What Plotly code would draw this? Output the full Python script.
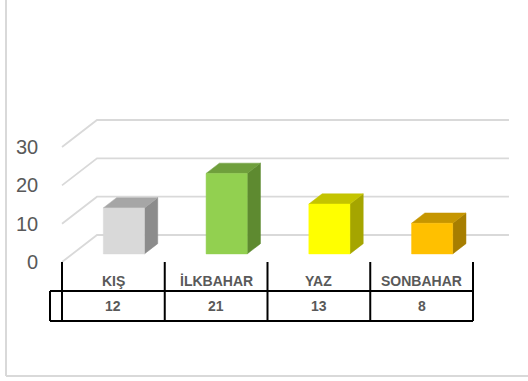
import plotly.graph_objects as go

# Seasonal counts
seasons = ["KIŞ", "İLKBAHAR", "YAZ", "SONBAHAR"]
counts = [12, 21, 13, 8]
y_ticks = [0, 10, 20, 30]

front_colors = ["#d9d9d9", "#92d050", "#ffff00", "#ffc000"]
top_colors = ["#a6a6a6", "#6f9f3c", "#c4c400", "#c69600"]
side_colors = ["#8c8c8c", "#5e8a30", "#a5a500", "#a77e00"]

W, H = 528, 381
# pixel scale of the plotting frame
PX_X = 102.75          # px per category slot
PX_Y = 3.833           # px per value unit
X0_PX, Y0_PX = 62, 262  # front-left corner of the floor in px

# oblique depth offset of the back wall (data units)
DX = 35 / PX_X
DY = 27 / PX_Y
BACK_RIGHT = 4.35

x_range = [-X0_PX / PX_X, (W - X0_PX) / PX_X]
y_range = [(Y0_PX - H) / PX_Y, Y0_PX / PX_Y]


def py(p):
    """pixel row -> paper y"""
    return 1 - p / H


def px_to_x(p):
    return (p - X0_PX) / PX_X


fig = go.Figure()

# perspective gridlines: left slant + back wall line
for v in y_ticks:
    fig.add_trace(go.Scatter(
        x=[0, DX, BACK_RIGHT], y=[v, v + DY, v + DY],
        mode="lines", line=dict(color="#d9d9d9", width=1.8),
        hoverinfo="skip", showlegend=False))

# 3D columns
BAR_W = 0.4
F0, F1 = 0.3, 0.68
for i, (name, val) in enumerate(zip(seasons, counts)):
    xl = i + 0.5 - BAR_W / 2
    xr = i + 0.5 + BAR_W / 2
    fx0, fy0 = F0 * DX, F0 * DY
    fx1, fy1 = F1 * DX, F1 * DY
    front = ([xl + fx0, xr + fx0, xr + fx0, xl + fx0, xl + fx0],
             [fy0, fy0, val + fy0, val + fy0, fy0])
    top = ([xl + fx0, xr + fx0, xr + fx1, xl + fx1, xl + fx0],
           [val + fy0, val + fy0, val + fy1, val + fy1, val + fy0])
    side = ([xr + fx0, xr + fx1, xr + fx1, xr + fx0, xr + fx0],
            [fy0, fy1, val + fy1, val + fy0, fy0])
    for (xs, ys), col in ((side, side_colors[i]), (top, top_colors[i]),
                          (front, front_colors[i])):
        fig.add_trace(go.Scatter(
            x=xs, y=ys, mode="lines", fill="toself", fillcolor=col,
            line=dict(color=col, width=0.5), hoverinfo="skip",
            showlegend=False))

# value axis labels
for v in y_ticks:
    fig.add_annotation(x=px_to_x(40), y=v, xref="x", yref="y", text=str(v),
                       showarrow=False, xanchor="right", yanchor="middle",
                       font=dict(family="Liberation Sans", size=20,
                                 color="#595959"))

# data table below the plot
line_k = dict(color="black", width=2)
for i in range(len(seasons) + 1):
    fig.add_shape(type="line", xref="x", yref="paper", x0=i, x1=i,
                  y0=py(262), y1=py(321), line=line_k)
fig.add_shape(type="line", xref="x", yref="paper", x0=px_to_x(50),
              x1=len(seasons), y0=py(291), y1=py(291), line=line_k)
fig.add_shape(type="line", xref="x", yref="paper", x0=px_to_x(50),
              x1=len(seasons), y0=py(321), y1=py(321), line=line_k)
fig.add_shape(type="line", xref="x", yref="paper", x0=px_to_x(50),
              x1=px_to_x(50), y0=py(291), y1=py(321), line=line_k)

for i, (name, val) in enumerate(zip(seasons, counts)):
    fig.add_annotation(x=i + 0.5, y=py(281), xref="x", yref="paper",
                       text=f"<b>{name}</b>", showarrow=False,
                       yanchor="middle",
                       font=dict(family="Liberation Sans", size=14,
                                 color="#595959"))
    fig.add_annotation(x=i + 0.5, y=py(306), xref="x", yref="paper",
                       text=f"<b>{val}</b>", showarrow=False,
                       yanchor="middle",
                       font=dict(family="Liberation Sans", size=14,
                                 color="#595959"))

# chart area border (left and bottom edges visible)
border = dict(color="#d9d9d9", width=2)
fig.add_shape(type="line", xref="paper", yref="paper", x0=6 / W, x1=6 / W,
              y0=py(0), y1=py(376), line=border)
fig.add_shape(type="line", xref="paper", yref="paper", x0=6 / W, x1=1,
              y0=py(376), y1=py(376), line=border)

fig.update_layout(
    width=W, height=H,
    margin=dict(l=0, r=0, t=0, b=0),
    paper_bgcolor="white", plot_bgcolor="white",
    xaxis=dict(range=x_range, visible=False, fixedrange=True),
    yaxis=dict(range=y_range, visible=False, fixedrange=True),
    showlegend=False,
)

fig.write_html("out.html")
